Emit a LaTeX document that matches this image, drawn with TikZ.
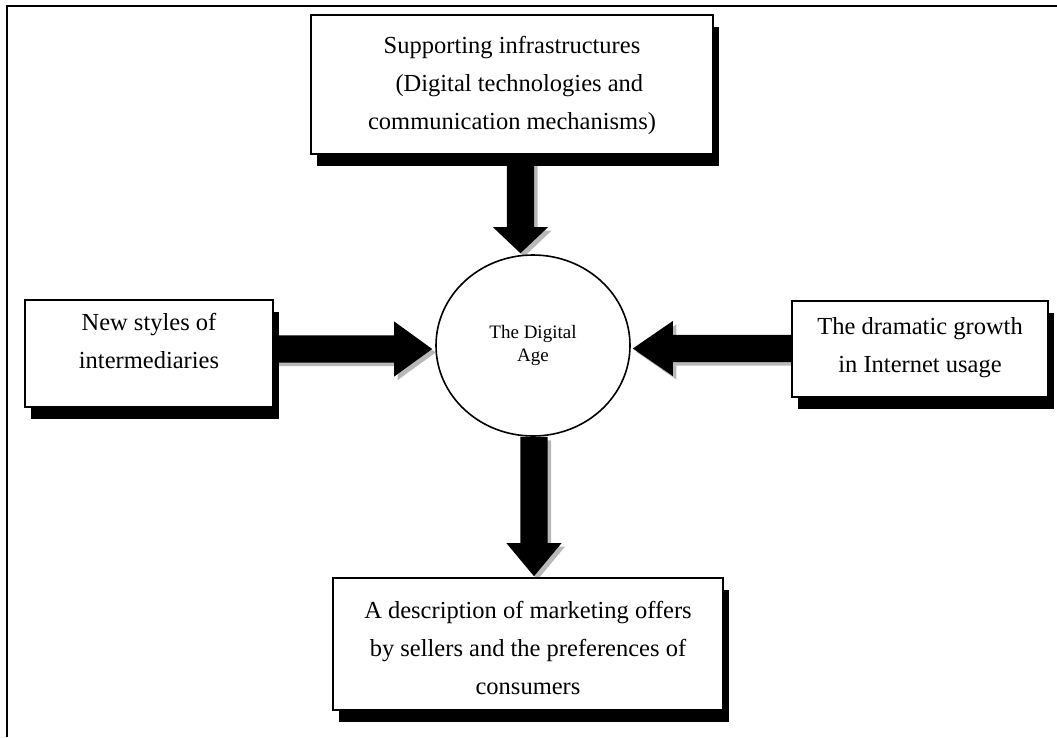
\documentclass[tikz,border=0pt]{standalone}
\usepackage{fontspec}
\setmainfont{Liberation Serif}
\usetikzlibrary{calc,shadows,backgrounds,shapes.geometric}
\definecolor{ashade}{gray}{0.72}
\tikzset{
  box/.style={draw=black, line width=1.6pt, fill=white, inner sep=0pt,
    drop shadow={shadow xshift=6pt, shadow yshift=-12pt, fill=black, opacity=1}},
  boxtxt/.style={align=center, inner sep=0pt, font=\fontsize{24.5}{38}\selectfont},
  hub/.style={ellipse, draw=black, line width=1.6pt, fill=white, inner sep=0pt,
    minimum width=194pt, minimum height=181pt, align=center,
    font=\fontsize{19}{23}\selectfont},
  frameline/.style={line width=1.3pt}
}
% block arrow: #1 start, #2 tip, #3 head length
\newcommand\blkpoly[3]{%
  ($(#1)!13.7pt!90:(#2)$) -- ($(hb)!13.7pt!90:(#2)$) -- ($(hb)!27.5pt!90:(#2)$)
  -- (#2) -- ($(hb)!27.5pt!-90:(#2)$) -- ($(hb)!13.7pt!-90:(#2)$)
  -- ($(#1)!13.7pt!-90:(#2)$) -- cycle}
\newcommand\blkarrow[3]{%
  \coordinate (hb) at ($(#2)!#3!(#1)$);
  \begin{scope}[transform canvas={shift={(3.5,3.5)}}]
    \fill[ashade] \blkpoly{#1}{#2}{#3};
  \end{scope}
  \fill[black] \blkpoly{#1}{#2}{#3};}
\begin{document}
\begin{tikzpicture}[x=1pt, y=-1pt]
\useasboundingbox (0,0) rectangle (1057,737);
\draw[frameline] (1057,6) -- (7,6) -- (7,737);

\node[box, minimum width=402pt, minimum height=139pt] (top) at (512,84.5) {};
\node[box, minimum width=248pt, minimum height=107pt] (left) at (149,353.5) {};
\node[box, minimum width=256pt, minimum height=96pt] (right) at (920,349) {};
\node[box, minimum width=390pt, minimum height=132pt] (bot) at (528,644) {};
\node[hub] (circ) at (533,345.5) {The Digital\\Age};

\node[boxtxt] (toptxt) at (512,85) {Supporting infrastructures\\\hspace{0.6em}(Digital technologies and\\communication mechanisms)};
\node[boxtxt] (lefttxt) at (149,341) {New styles of\\intermediaries};
\node[boxtxt] (righttxt) at (920,347.5) {The dramatic growth\\in Internet usage};
\node[boxtxt] (bottxt) at (528,647.5) {A description of marketing offers\\by sellers and the preferences of\\consumers};

\coordinate (ta) at ($(top.south)+(8.5,0)$);
\coordinate (tb) at ($(circ.north)+(-12.5,-1)$);
\coordinate (ba) at ($(circ.south)+(1,0)$);
\coordinate (bb) at ($(bot.north)+(6,-1)$);
\coordinate (la) at ($(left.east)+(0,-4.5)$);
\coordinate (lb) at ($(circ.west)+(-3,3.5)$);
\coordinate (ra) at ($(right.west)+(0,-0.5)$);
\coordinate (rb) at ($(circ.east)+(2,3)$);

\begin{pgfonlayer}{background}
  \blkarrow{ta}{tb}{26pt}
  \blkarrow{ba}{bb}{33pt}
  \blkarrow{la}{lb}{38pt}
  \blkarrow{ra}{rb}{40pt}
\end{pgfonlayer}
\end{tikzpicture}
\end{document}
